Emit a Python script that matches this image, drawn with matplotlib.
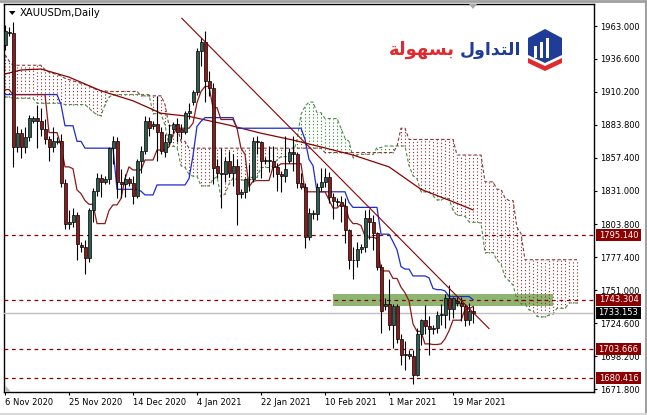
import matplotlib
matplotlib.use('Agg')
import matplotlib.pyplot as plt
from matplotlib.patches import Rectangle, Polygon

# ---------------- data ----------------
bar_start = -2  # first visible bar index (Fri 6 Nov 2020); bars incl. Sunday sessions
opens = [1948, 1958, 1957, 1866, 1877, 1866, 1874, 1887, 1889, 1887, 1880, 1872, 1866, 1870,
         1871, 1837, 1804, 1806, 1811, 1787, 1786, 1777, 1815, 1831, 1841, 1838, 1840, 1865,
         1871, 1838, 1836, 1840, 1837, 1827, 1855, 1863, 1887, 1883, 1884, 1878, 1862, 1870,
         1880, 1884, 1880, 1878, 1893, 1902, 1910, 1943, 1950, 1919, 1913, 1851, 1845, 1844,
         1855, 1845, 1851, 1828, 1830, 1840, 1840, 1871, 1870, 1855, 1855, 1855, 1850, 1844,
         1843, 1855, 1862, 1860, 1837, 1834, 1794, 1812, 1812, 1834, 1838, 1842, 1826, 1822,
         1822, 1819, 1799, 1775, 1775, 1784, 1786, 1809, 1806, 1797, 1770, 1738, 1740, 1723,
         1738, 1712, 1699, 1700, 1698, 1683, 1716, 1727, 1722, 1720, 1721, 1731, 1731, 1745,
         1736, 1742, 1741, 1738, 1727, 1734]
highs = [1964, 1962, 1966, 1883, 1880, 1882, 1892, 1891, 1900, 1897, 1888, 1875, 1882, 1874,
         1876, 1840, 1815, 1817, 1814, 1790, 1791, 1817, 1833, 1845, 1844, 1843, 1866, 1875,
         1874, 1848, 1844, 1842, 1843, 1856, 1867, 1891, 1890, 1887, 1907, 1882, 1876, 1884,
         1886, 1889, 1884, 1895, 1901, 1912, 1945, 1953, 1959, 1927, 1917, 1856, 1865, 1858,
         1863, 1860, 1856, 1832, 1841, 1852, 1874, 1875, 1871, 1858, 1867, 1867, 1853, 1847,
         1875, 1865, 1875, 1862, 1845, 1837, 1817, 1815, 1837, 1849, 1849, 1846, 1829, 1825,
         1827, 1825, 1800, 1786, 1790, 1788, 1815, 1816, 1811, 1798, 1772, 1745, 1760, 1740,
         1740, 1716, 1710, 1703, 1703, 1721, 1728, 1739, 1730, 1723, 1734, 1740, 1748, 1755,
         1746, 1746, 1746, 1740, 1741, 1738]
lows = [1944, 1955, 1850, 1862, 1857, 1861, 1871, 1885, 1865, 1875, 1868, 1855, 1862, 1868,
        1834, 1800, 1800, 1802, 1775, 1782, 1764, 1774, 1806, 1827, 1826, 1836, 1836, 1852,
        1825, 1825, 1826, 1835, 1820, 1825, 1845, 1860, 1875, 1880, 1855, 1860, 1858, 1868,
        1877, 1870, 1872, 1876, 1888, 1900, 1908, 1931, 1902, 1907, 1836, 1841, 1817, 1838,
        1842, 1835, 1803, 1825, 1825, 1831, 1838, 1860, 1841, 1852, 1846, 1842, 1831, 1830,
        1838, 1853, 1847, 1833, 1832, 1785, 1791, 1808, 1807, 1831, 1834, 1821, 1808, 1819,
        1806, 1789, 1768, 1760, 1770, 1781, 1782, 1792, 1783, 1767, 1717, 1735, 1719, 1705,
        1709, 1691, 1687, 1696, 1676, 1682, 1707, 1716, 1699, 1716, 1717, 1723, 1721, 1727,
        1729, 1738, 1726, 1722, 1723, 1725]
closes = [1959, 1957, 1866, 1877, 1866, 1874, 1889, 1889, 1887, 1880, 1872, 1866, 1871, 1871,
          1837, 1804, 1806, 1811, 1788, 1786, 1777, 1815, 1831, 1841, 1838, 1840, 1865, 1871,
          1838, 1836, 1840, 1837, 1827, 1855, 1863, 1887, 1881, 1884, 1878, 1863, 1870, 1876,
          1884, 1878, 1878, 1893, 1895, 1910, 1943, 1950, 1919, 1913, 1849, 1845, 1844, 1855,
          1845, 1851, 1828, 1830, 1840, 1840, 1871, 1870, 1855, 1855, 1855, 1850, 1844, 1843,
          1848, 1862, 1860, 1837, 1834, 1794, 1813, 1812, 1834, 1838, 1842, 1826, 1823, 1822,
          1819, 1799, 1775, 1775, 1784, 1786, 1809, 1806, 1797, 1770, 1734, 1740, 1723, 1738,
          1712, 1699, 1700, 1698, 1683, 1716, 1727, 1722, 1720, 1721, 1731, 1731, 1745, 1736,
          1745, 1741, 1738, 1727, 1734, 1733.15]

# Ichimoku lines
tenkan = ([1912] * 2 + [1908] * 9 + [1877.5] * 3 + [1867] + [1850] * 2 + [1848.5, 1831.5, 1828.5, 1823]
          + [1820] * 2 + [1804.5] * 3 + [1815] + [1819.5] * 2 + [1824.5, 1840.5, 1850] + [1847.5] * 3
          + [1855.5] * 3 + [1863.5] * 3 + [1866, 1876] + [1881] * 4 + [1885, 1901.5, 1910.5]
          + [1914.5] * 2 + [1897.5] * 2 + [1888] * 4 + [1881, 1865, 1860, 1834, 1838.5] + [1839] * 4
          + [1850] * 2 + [1852.5] * 6 + [1830] * 6 + [1823.5] + [1817] * 2 + [1820, 1819, 1808.5]
          + [1804.5] * 2 + [1803, 1794.5] + [1793.5] * 2 + [1792.5] + [1766.5] * 3 + [1760.5] * 2
          + [1753.5, 1749, 1742.5, 1724] + [1718] * 2 + [1708] * 2 + [1707.5] * 2 + [1708, 1712, 1718.5]
          + [1727] * 3 + [1735.5, 1736, 1738])
kijun = ([1908] * 14 + [1900] + [1883] * 3 + [1870.5] * 2 + [1865] * 8 + [1832] * 6 + [1830.5]
         + [1827.5] * 3 + [1835.5] * 8 + [1840.5, 1859, 1882.5, 1886.5] + [1889.5] * 8 + [1881] * 17
         + [1872, 1856, 1851] + [1830] * 8 + [1821.5] + [1817.5] * 7 + [1796] * 3 + [1790, 1783.5, 1770]
         + [1768] * 2 + [1762.5] * 4 + [1761, 1752.5] + [1751.5] * 2 + [1750.5] + [1746] * 6 + [1743.5])

cloud_start = -2  # cloud drawn 26 bars ahead, to bar 141
span_a = ([1906, 1906] + [1905] * 6 + [1901] * 7 + [1900] * 6 + [1897, 1894, 1892, 1891, 1900, 1906, 1908]
          + [1908] * 9 + [1892.75] * 3 + [1883.5] + [1866.5] * 2 + [1865.75, 1851, 1849.5, 1844]
          + [1842.5] * 2 + [1834.75] * 3 + [1840, 1842.25, 1825.75, 1828.25, 1836.25, 1841]
          + [1839.75] * 2 + [1839] + [1841.5] * 3 + [1849.5] * 3 + [1850.75, 1855.75] + [1858.25] * 3
          + [1860.75, 1872, 1892, 1898.5] + [1902] * 2 + [1893.5] * 2 + [1888.75] * 4
          + [1881, 1873, 1870.5, 1857.5, 1859.75] + [1860] * 4 + [1865.5] * 2 + [1866.75] * 6
          + [1851, 1843, 1840.5] + [1830] * 3 + [1826.75] + [1823.5] * 2 + [1825, 1824.5, 1815]
          + [1811] * 2 + [1810.25, 1806] + [1805.5] * 2 + [1805] + [1781.25] * 3
          + [1775.25, 1772, 1761.75, 1758.5, 1755.25, 1743.25] + [1740.25] * 2
          + [1735.25, 1734.5, 1730, 1729.5, 1729.75, 1731.25, 1732.25] + [1736.5] * 3 + [1740.75, 1741, 1740.75])
span_b = ([1940, 1935] + [1931.5] * 8 + [1928, 1926, 1925, 1924, 1923, 1921, 1920, 1919, 1918, 1917,
          1916, 1915, 1913, 1912, 1911, 1911, 1910.5, 1910.5]
          + [1910.5] * 6 + [1907] * 6 + [1900] + [1883] * 3 + [1870.5] * 2 + [1865] * 34 + [1861.5] * 18
          + [1866.5] + [1881] * 2 + [1872] * 12 + [1859.5] * 7 + [1838] * 3 + [1832] * 2 + [1825]
          + [1823] * 2 + [1801.5, 1796.5] + [1775.5] * 14)

ma_bars = [-2, 2, 7, 14, 22, 30, 37, 44, 54, 62, 70, 77, 85, 94, 102, 110, 115]
ma_vals = [1924.5, 1927.7, 1928.5, 1922, 1911, 1903, 1893, 1890.5, 1883.5, 1877, 1871.5, 1866,
           1859.5, 1850, 1832, 1822, 1815.5]

levels = [1795.140, 1743.304, 1703.666, 1680.416]
bid = 1733.153
trend_bars = [42.2, 119]
trend_vals = [1969.2, 1720.3]
zone_bars = [79.9, 135]
zone_vals = [1738.6, 1748.0]

yticks = [1963.0, 1936.6, 1910.2, 1883.8, 1857.4, 1831.0, 1803.8, 1777.4, 1751.0, 1724.6, 1698.2, 1671.8]
xtick_bars = [-2, 14, 30, 46, 62, 78, 94, 110]
xtick_labels = ['6 Nov 2020', '25 Nov 2020', '14 Dec 2020', '4 Jan 2021', '22 Jan 2021',
                '10 Feb 2021', '1 Mar 2021', '19 Mar 2021']

# ---------------- figure ----------------
W, H = 647, 415
fig = plt.figure(figsize=(W / 100, H / 100), dpi=100)
fig.patch.set_facecolor('white')
AX_L, AX_R, AX_T, AX_B = 4, 594, 4, 392
YMIN, YMAX = 1669.4, 1980.65
ax = fig.add_axes([AX_L / W, 1 - AX_B / H, (AX_R - AX_L) / W, (AX_B - AX_T) / H])
ax.set_xlim(-2.25, 145.25)
ax.set_ylim(YMIN, YMAX)
ax.set_facecolor('white')

BULL = '#2F5D50'
BEAR = '#8E1B1B'
RED_LINE = '#8B1A1A'
BLUE_LINE = '#1E2BD0'
GREEN_DOT = '#2E8B2E'
RED_DOT = '#8B2B2B'

# zone rectangle (background)
ax.add_patch(Rectangle((zone_bars[0], zone_vals[0]), zone_bars[1] - zone_bars[0],
                       zone_vals[1] - zone_vals[0], facecolor='#8FB573', edgecolor='none', zorder=1))

# cloud
cx = list(range(cloud_start, cloud_start + len(span_a)))
for x, a, b in zip(cx, span_a, span_b):
    col = RED_DOT if b >= a else GREEN_DOT
    ax.vlines(x, min(a, b), max(a, b), colors=col, linestyles=(0, (1, 2)), lw=0.8, zorder=2)
ax.plot(cx, span_a, color='#4E8F4E', ls=(0, (3, 2)), lw=0.8, zorder=2)
ax.plot(cx, span_b, color='#8B3A3A', ls=(0, (3, 2)), lw=0.8, zorder=2)

# horizontal levels
for lv in levels:
    ax.axhline(lv, color='#8B0000', ls=(0, (3, 3)), lw=0.9, zorder=3)
ax.axhline(bid, color='#C0C0C0', lw=1.0, zorder=3)

# indicator lines
bx = list(range(bar_start, bar_start + len(opens)))
ax.plot(ma_bars, ma_vals, color='#8B0000', lw=0.9, zorder=4)
ax.plot(bx, kijun, color=BLUE_LINE, lw=0.9, zorder=4)
ax.plot(bx, tenkan, color=RED_LINE, lw=0.9, zorder=4)

# candles
ax.vlines(bx, lows, highs, colors='black', lw=0.8, zorder=5)
bottoms = [min(o, c) for o, c in zip(opens, closes)]
heights = [max(abs(c - o), 0.6) for o, c in zip(opens, closes)]
colors = [BULL if c >= o else BEAR for o, c in zip(opens, closes)]
ax.bar(bx, heights, bottom=bottoms, width=0.75, color=colors, edgecolor='black', linewidth=0.5, zorder=6)

# trend line
ax.plot(trend_bars, trend_vals, color='#8B0000', lw=0.8, zorder=7)

# axes styling
for s in ax.spines.values():
    s.set_color('black')
    s.set_linewidth(1.0)
ax.yaxis.tick_right()
ax.set_yticks(yticks)
ax.set_yticklabels(['%.3f' % v for v in yticks])
ax.set_xticks(xtick_bars)
ax.set_xticklabels(xtick_labels)
ax.tick_params(axis='both', which='both', direction='out', length=2.5, width=0.8,
               labelsize=6, pad=1.5, colors='black')
ax.tick_params(axis='y', pad=2.2)
for lbl in ax.get_xticklabels():
    lbl.set_horizontalalignment('left')

# ---------------- overlay in pixel coordinates ----------------
ov = fig.add_axes([0, 0, 1, 1], zorder=10)
ov.set_xlim(0, W)
ov.set_ylim(H, 0)
ov.axis('off')
ov.patch.set_alpha(0)


def ypix(v):
    return AX_T + (YMAX - v) / (YMAX - YMIN) * (AX_B - AX_T)


for lv in levels:
    yp = ypix(lv)
    ov.add_patch(Rectangle((596, yp - 6), 45, 12, facecolor='#8B0000', edgecolor='none'))
    ov.text(618.5, yp, '%.3f' % lv, color='white', fontsize=6, ha='center', va='center')
yp = ypix(bid)
ov.add_patch(Rectangle((596, yp - 6), 45, 12, facecolor='black', edgecolor='none'))
ov.text(618.5, yp, '%.3f' % bid, color='white', fontsize=6, ha='center', va='center')

# title
ov.add_patch(Polygon([(9, 11), (15.5, 11), (12.25, 15)], closed=True, facecolor='black', edgecolor='none'))
ov.text(20, 13, 'XAUUSDm,Daily', fontsize=7.2, ha='left', va='center', color='black')

# markers
ov.add_patch(Polygon([(469, 4), (477, 4), (473, 9)], closed=True, facecolor='#A8A8A8', edgecolor='none'))
ov.add_patch(Polygon([(4.5, 385), (4.5, 391.5), (11, 391.5)], closed=True, facecolor='#B8B8B8', edgecolor='none'))

# outer borders
ov.plot([0, W], [1, 1], color='#A0A0A0', lw=2)
ov.plot([W - 1, W - 1], [0, H], color='#A0A0A0', lw=1.5)
ov.plot([0, W], [413.5, 413.5], color='#D8D8D8', lw=1.5)

# watermark logo
ov.add_patch(Polygon([(545, 29), (562, 38), (562, 55), (545, 63), (528, 55), (528, 38)], closed=True,
                     facecolor='#1F3C96', edgecolor='none'))
for bx0, top in [(534, 46), (540, 42), (546, 38)]:
    ov.add_patch(Rectangle((bx0, top), 3.2, 58 - top, facecolor='white', edgecolor='none'))
ov.add_patch(Polygon([(528, 58), (545, 66), (562, 58), (562, 63), (545, 71), (528, 63)], closed=True,
                     facecolor='#E02A2F', edgecolor='none'))
ov.text(521, 50, '\uFEDD\uFEED\uFE8D\uFEAA\uFE98\uFEDF\uFE8D', fontsize=12.5, fontweight='bold',
        color='#1F3C96', ha='right', va='center', family=['DejaVu Sans'])
ov.text(455, 50, '\uFE94\uFEDF\uFEEE\uFEEC\uFEB4\uFE91', fontsize=13, fontweight='bold',
        color='#E02A2F', ha='right', va='center', family=['DejaVu Sans'])

fig.savefig('out.png', dpi=100, facecolor='white')
